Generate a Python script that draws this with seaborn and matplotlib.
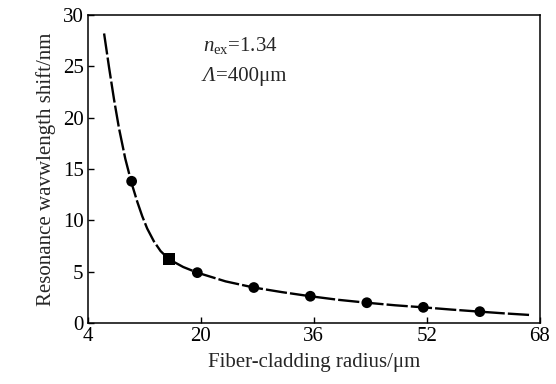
import matplotlib
matplotlib.use("Agg")
import matplotlib.pyplot as plt
import seaborn as sns
import pandas as pd

# fitted curve
curve_x = [6.3, 7.0, 7.7, 8.4, 9.3, 10.2, 11.0, 11.7, 12.4, 13.35, 14.3, 15.5,
           17.5, 19.5, 23.5, 27.5, 31.5, 35.5, 39.5, 43.5, 47.5, 51.5, 55.5,
           59.5, 63.0, 66.5]
curve_y = [28.2, 24.9, 21.8, 19.0, 16.0, 13.6, 11.8, 10.4, 9.2, 7.95, 7.0, 6.2,
           5.45, 4.9, 4.05, 3.45, 3.0, 2.6, 2.25, 1.97, 1.72, 1.52, 1.3,
           1.1, 0.93, 0.78]

# measured points
dot_x = [10.2, 19.5, 27.5, 35.5, 43.5, 51.5, 59.5]
dot_y = [13.8, 4.9, 3.45, 2.6, 1.97, 1.52, 1.1]
square_x = [15.5]
square_y = [6.2]

x_ticks = [4, 20, 36, 52, 68]
y_ticks = [0, 5, 10, 15, 20, 25, 30]

sns.set_style("ticks")
plt.rcParams["font.family"] = ["Liberation Serif", "DejaVu Serif"]
plt.rcParams["mathtext.fontset"] = "custom"
plt.rcParams["mathtext.rm"] = "Liberation Serif"
plt.rcParams["mathtext.it"] = "Liberation Serif:italic"

fig = plt.figure(figsize=(5.56, 3.84), dpi=100)
ax = fig.add_axes([0.158, 0.159, 0.813, 0.802])

curve = pd.DataFrame({"x": curve_x, "y": curve_y})
sns.lineplot(data=curve, x="x", y="y", ax=ax, color="black", lw=1.7,
             linestyle=(0, (9, 1.3)), sort=False)
sns.scatterplot(x=dot_x, y=dot_y, ax=ax, color="black", marker="o", s=60,
                edgecolor="none", zorder=3)
sns.scatterplot(x=square_x, y=square_y, ax=ax, color="black", marker="s", s=70,
                edgecolor="none", zorder=3)

ax.set_xlim(4, 68)
ax.set_ylim(0, 30)
ax.set_xticks(x_ticks)
ax.set_yticks(y_ticks)
ax.tick_params(direction="in", length=4, width=1, labelsize=15, colors="black",
               pad=3)
for s in ax.spines.values():
    s.set_linewidth(1.1)
    s.set_color("black")

ax.set_xlabel("Fiber-cladding radius/μm", fontsize=15, labelpad=5)
ax.set_ylabel("Resonance wavwlength shift/nm", fontsize=15, labelpad=5)

ax.text(20.3, 27.0, r"$\mathit{n}_{\mathrm{ex}}$=1.34", fontsize=15, va="center")
lam = ax.text(20.3, 24.0, "Λ", fontsize=15, va="center", fontstyle="italic")
ax.annotate("=400μm", xy=(1, 0.5), xycoords=lam, va="center", fontsize=15)

fig.savefig("out.png", dpi=100)
